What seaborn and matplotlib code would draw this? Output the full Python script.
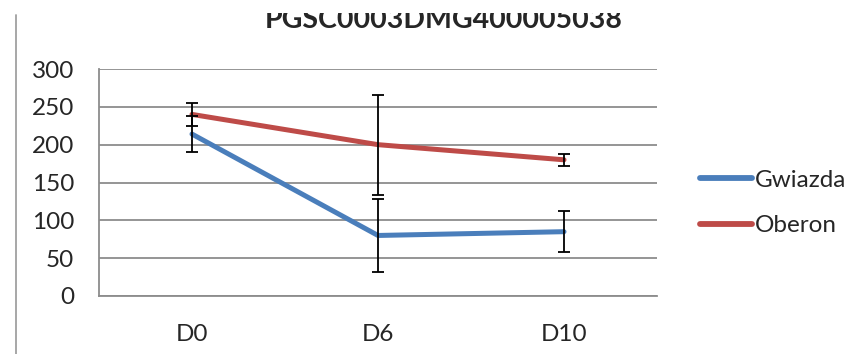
import pandas as pd
import numpy as np
import matplotlib.pyplot as plt
import seaborn as sns

# Values
days = ["D0", "D6", "D10"]
gwiazda = [214, 80, 85]
gwiazda_err = [24, 48, 27]
oberon = [240, 200, 180]
oberon_err = [15, 66, 8]

df = pd.DataFrame({
    "day": days * 2,
    "value": gwiazda + oberon,
    "variety": ["Gwiazda"] * 3 + ["Oberon"] * 3,
})

sns.set_style("white")
plt.rcParams['font.family'] = ['Lato', 'DejaVu Sans']

fig = plt.figure(figsize=(8.58, 3.54), dpi=100)
ax = fig.add_axes([99 / 858, 1 - 296 / 354, 558 / 858, 227 / 354])

palette = {"Gwiazda": "#4A7EBB", "Oberon": "#BE4B48"}
sns.lineplot(data=df, x="day", y="value", hue="variety", palette=palette,
             linewidth=3.6, ax=ax, sort=False, zorder=3)

x = np.arange(len(days))
ax.errorbar(x, gwiazda, yerr=gwiazda_err, fmt="none", ecolor="black",
            elinewidth=1.3, capsize=4.5, capthick=1.3, zorder=4)
ax.errorbar(x, oberon, yerr=oberon_err, fmt="none", ecolor="black",
            elinewidth=1.3, capsize=4.5, capthick=1.3, zorder=4)

ax.set_xlim(-0.5, 2.5)
ax.set_ylim(0, 300)
ax.set_yticks(range(0, 301, 50))
ax.yaxis.grid(True, color="#8c8c8c", linewidth=1.3)
ax.set_axisbelow(True)
ax.set_xlabel("")
ax.set_ylabel("")

for s in ["top", "right"]:
    ax.spines[s].set_visible(False)
for s in ["left", "bottom"]:
    ax.spines[s].set_color("#8c8c8c")
    ax.spines[s].set_linewidth(1.3)

ax.set_xticks(x)
ax.set_xticklabels(days)
ax.set_xticks([-0.5, 0.5, 1.5, 2.5], minor=True)
ax.tick_params(axis="x", which="major", length=0, pad=20, labelsize=17.5)
ax.tick_params(axis="x", which="minor", length=6, width=1.3, color="#8c8c8c")
ax.tick_params(axis="y", length=6, width=1.3, color="#8c8c8c", pad=12, labelsize=17.5)

leg = ax.legend(loc="center left", bbox_to_anchor=(1.077, 0.41), frameon=False,
                fontsize=17.5, handlelength=2.15, handletextpad=0.1, labelspacing=1.0,
                borderaxespad=0, borderpad=0)
for line in leg.get_lines():
    line.set_linewidth(4.2)
    line.set_solid_capstyle("round")

fig.text(444 / 858, 1 - 28 / 354, "PGSC0003DMG400005038", ha="center", va="baseline",
         fontsize=20.5, fontweight="bold")
# the top of the title is clipped in the original picture
fig.add_artist(plt.Rectangle((0, 1 - 13 / 354), 1, 13 / 354, transform=fig.transFigure,
                             facecolor="white", edgecolor="none", zorder=10))

fig.add_artist(plt.Line2D([16 / 858, 16 / 858], [0, 1 - 15 / 354],
                          color="#a0a0a0", linewidth=1.3))

fig.savefig("out.png", dpi=100)
